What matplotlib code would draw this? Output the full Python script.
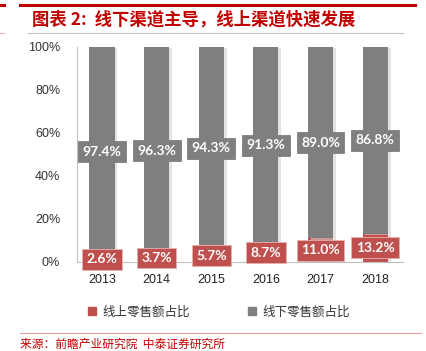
import matplotlib
matplotlib.use("Agg")
import matplotlib.pyplot as plt
import matplotlib.patheffects as pe
from matplotlib.lines import Line2D
import numpy as np

plt.rcParams['font.family'] = ['Noto Sans CJK SC', 'DejaVu Sans']

years = ['2013', '2014', '2015', '2016', '2017', '2018']
online = [2.6, 3.7, 5.7, 8.7, 11.0, 13.2]
offline = [97.4, 96.3, 94.3, 91.3, 89.0, 86.8]
yticks = [0, 20, 40, 60, 80, 100]
series_names = ['线上零售额占比', '线下零售额占比']
title = '图表 2:  线下渠道主导，线上渠道快速发展'
source = '来源：前瞻产业研究院  中泰证券研究所'

RED = '#C0504D'
GRAY = '#7F7F7F'

fig = plt.figure(figsize=(4.27, 3.51), dpi=100)
ax = fig.add_axes([0.180, 0.2536, 0.764, 0.6125])

x = np.arange(len(years))
w = 0.46
shadow = [pe.SimplePatchShadow(offset=(2, -1), shadow_rgbFace='#d0d0d0', alpha=0.6), pe.Normal()]
ax.bar(x, online, w, color=RED, path_effects=shadow, zorder=2)
ax.bar(x, offline, w, bottom=online, color=GRAY, path_effects=shadow, zorder=2)

for i in range(len(years)):
    ax.text(x[i], online[i] / 2, f'{online[i]:.1f}%', ha='center', va='center',
            color='white', fontsize=10, fontweight='bold', family='Lato', zorder=4,
            bbox=dict(boxstyle='square,pad=0.32', fc=RED, ec='#e8b0b0', lw=0.6))
    ax.text(x[i], online[i] + offline[i] / 2, f'{offline[i]:.1f}%', ha='center', va='center',
            color='white', fontsize=10, fontweight='bold', family='Lato', zorder=4,
            bbox=dict(boxstyle='square,pad=0.32', fc=GRAY, ec=GRAY, lw=0.6))

ax.set_xlim(-0.46, 5.51)
ax.set_ylim(0, 100)
ax.set_yticks(yticks)
ax.set_yticklabels([f'{v}%' for v in yticks], fontsize=9, family='Liberation Sans', color='#333333')
ax.set_xticks(x)
ax.set_xticklabels(years, fontsize=9, family='Liberation Sans', color='#222222')
ax.tick_params(axis='y', length=0, pad=12)
ax.tick_params(axis='x', length=0, pad=9)
for s in ['top', 'right']:
    ax.spines[s].set_visible(False)
for s in ['left', 'bottom']:
    ax.spines[s].set_color('#BFBFBF')
    ax.spines[s].set_linewidth(0.8)

handles = [Line2D([], [], marker='s', ls='', color=RED, markersize=5.5),
           Line2D([], [], marker='s', ls='', color=GRAY, markersize=5.5)]
fig.legend(handles, series_names, loc='center', bbox_to_anchor=(0.512, 0.111), ncol=2,
           frameon=False, fontsize=9, handlelength=0.8, handletextpad=0.4,
           columnspacing=4.6, labelcolor='#333333')

# decorative lines
fig.add_artist(Line2D([0.047, 0.972], [0.987, 0.987], color='#C00000', lw=2.2))
fig.add_artist(Line2D([0.0, 0.01], [0.987, 0.987], color='#C00000', lw=2.2))
fig.add_artist(Line2D([0.0, 0.01], [0.905, 0.905], color='#E8B0B0', lw=0.8))
fig.add_artist(Line2D([0.066, 0.944], [0.907, 0.907], color='#BFBFBF', lw=0.8))
fig.add_artist(Line2D([0.047, 0.985], [0.051, 0.051], color='#E8A0A0', lw=0.8))

fig.text(0.075, 0.944, title, color='#C00000', fontsize=12.5, fontweight='bold',
         va='center', ha='left')
fig.text(0.047, 0.02, source, color='#C00000', fontsize=8.5, va='center', ha='left')

fig.savefig('out.png', dpi=100)
